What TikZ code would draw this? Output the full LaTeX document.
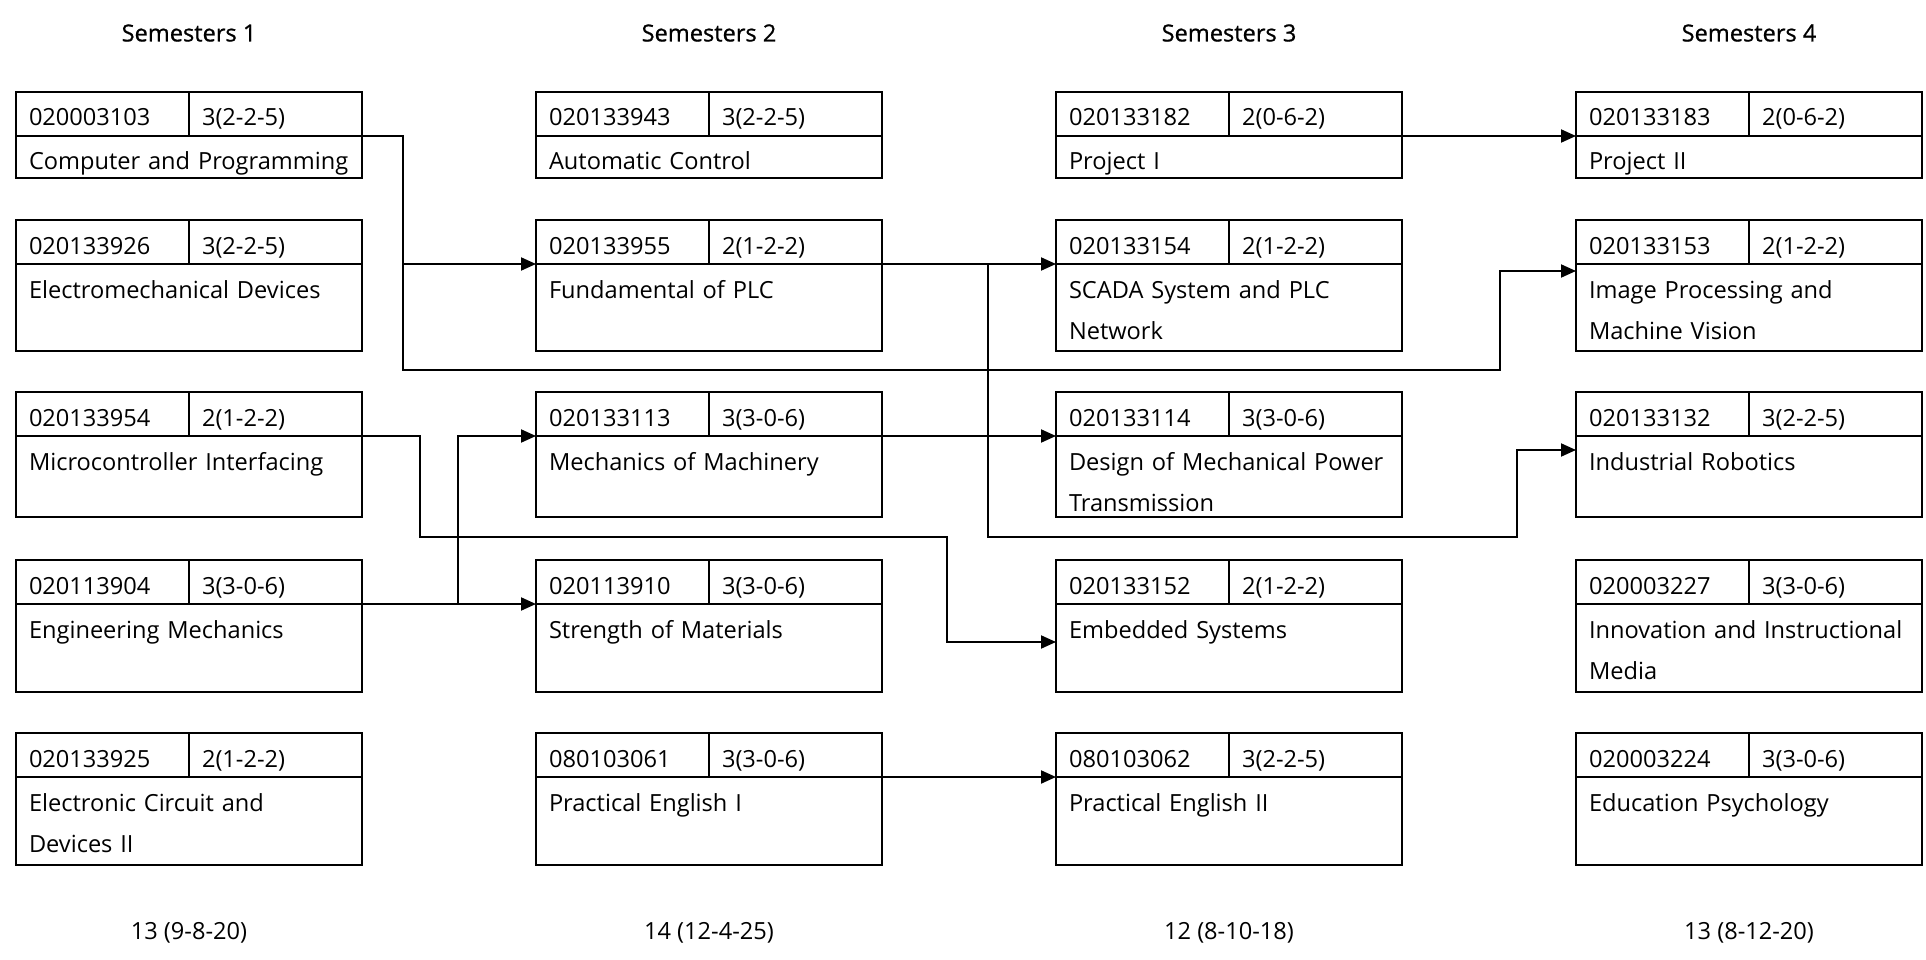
\documentclass[tikz,border=0pt]{standalone}
\usepackage{fontspec}
\setmainfont{Open Sans}
\newfontfamily\semfont[FakeBold=0.8]{Open Sans}
\usetikzlibrary{arrows.meta}
\tikzset{>={Triangle[length=15pt,width=13pt]}}
\tikzset{ % course boxes
  cell/.style={draw, line width=2pt, anchor=north west, outer sep=0pt,
    inner xsep=13pt, inner ysep=0pt, align=left,
    font=\fontsize{23.6}{41}\selectfont},
  codecell/.style={cell, text width=147pt, minimum height=44pt,
    text height=24pt, text depth=0pt},
  titlecell/.style={cell, text width=320pt, text height=34pt},
  link/.style={->, line width=2pt},
  semester/.style={font=\semfont\fontsize{23.6}{28}\selectfont},
  total/.style={font=\fontsize{23.6}{28}\selectfont}
}
% #1 name, #2 top left, #3 code, #4 credits, #5 title, #6 depth below first line
\newcommand{\course}[6]{%
  \node[codecell] (#1code) at (#2) {#3};
  \node[codecell] (#1credit) at (#1code.north east) {#4};
  \node[titlecell, text depth=#6pt] (#1) at (#1code.south west) {#5};
}

\begin{document}
\begin{tikzpicture}[x=1pt,y=-1pt]
\useasboundingbox (0,0) rectangle (1926,960);

\node[semester] (sem1) at (189,33) {Semesters 1};
\node[semester] (sem2) at (709,33) {Semesters 2};
\node[semester] (sem3) at (1229,33) {Semesters 3};
\node[semester] (sem4) at (1749,33) {Semesters 4};

% semester 1
\course{comp}{16,92}{020003103}{3(2-2-5)}{Computer and Programming}{8}
\course{elecmech}{16,220}{020133926}{3(2-2-5)}{Electromechanical Devices}{53}
\course{micro}{16,392}{020133954}{2(1-2-2)}{Microcontroller Interfacing}{47}
\course{engmech}{16,560}{020113904}{3(3-0-6)}{Engineering Mechanics}{54}
\course{circuit}{16,733}{020133925}{2(1-2-2)}{Electronic Circuit and\\Devices II}{54}

% semester 2
\course{autoctl}{536,92}{020133943}{3(2-2-5)}{Automatic Control}{8}
\course{plc}{536,220}{020133955}{2(1-2-2)}{Fundamental of PLC}{53}
\course{machinery}{536,392}{020133113}{3(3-0-6)}{Mechanics of Machinery}{47}
\course{strength}{536,560}{020113910}{3(3-0-6)}{Strength of Materials}{54}
\course{engI}{536,733}{080103061}{3(3-0-6)}{Practical English I}{54}

% semester 3
\course{proj1}{1056,92}{020133182}{2(0-6-2)}{Project I}{8}
\course{scada}{1056,220}{020133154}{2(1-2-2)}{SCADA System and PLC\\Network}{53}
\course{design}{1056,392}{020133114}{3(3-0-6)}{Design of Mechanical Power\\Transmission}{47}
\course{embedded}{1056,560}{020133152}{2(1-2-2)}{Embedded Systems}{54}
\course{engII}{1056,733}{080103062}{3(2-2-5)}{Practical English II}{54}

% semester 4
\course{proj2}{1576,92}{020133183}{2(0-6-2)}{Project II}{8}
\course{vision}{1576,220}{020133153}{2(1-2-2)}{Image Processing and\\Machine Vision}{53}
\course{robotics}{1576,392}{020133132}{3(2-2-5)}{Industrial Robotics}{47}
\course{innov}{1576,560}{020003227}{3(3-0-6)}{Innovation and Instructional\\Media}{54}
\course{psych}{1576,733}{020003224}{3(3-0-6)}{Education Psychology}{54}

% prerequisites
\draw[link] (comp.north east) -- ++(41,0) |- (plc.north west);
\draw[link] ([xshift=41pt]comp.north east) |- (1500,370) |- ([yshift=-7pt]vision.north west);
\draw[link] (micro.north east) -- ++(58,0) |- (947,537) |- ([yshift=-38pt]embedded.north west);
\draw[link] (engmech.north east) -- (strength.north west);
\draw[link] ([xshift=96pt]engmech.north east) |- (machinery.north west);
\draw[link] (plc.north east) -- (scada.north west);
\draw[link] ([xshift=106pt]plc.north east) |- (1517,537) |- ([yshift=-14pt]robotics.north west);
\draw[link] (machinery.north east) -- (design.north west);
\draw[link] (proj1.north east) -- (proj2.north west);
\draw[link] (engI.north east) -- (engII.north west);

\node[total] (tot1) at (189,933) {13 (9-8-20)};
\node[total] (tot2) at (709,933) {14 (12-4-25)};
\node[total] (tot3) at (1229,933) {12 (8-10-18)};
\node[total] (tot4) at (1749,933) {13 (8-12-20)};
\end{tikzpicture}
\end{document}
